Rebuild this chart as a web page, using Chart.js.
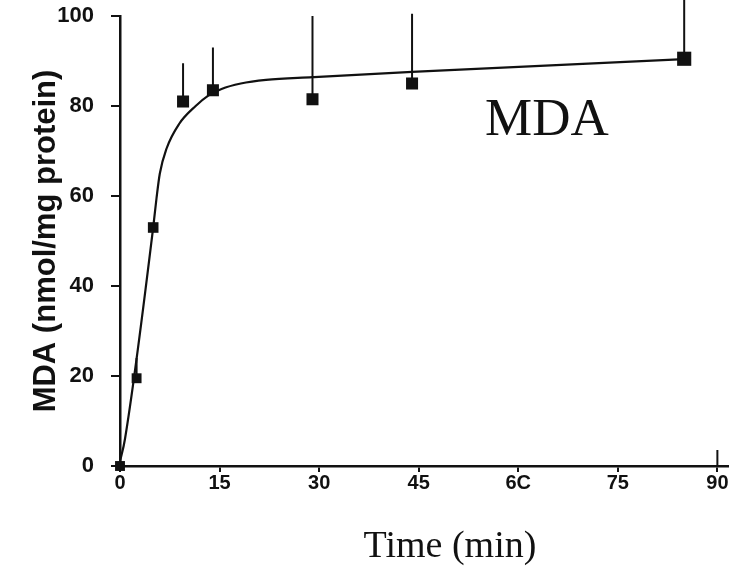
<!DOCTYPE html>
<html>
<head>
<meta charset="utf-8">
<title>MDA</title>
<script src="https://cdn.jsdelivr.net/npm/chart.js@4.4.1/dist/chart.umd.min.js"></script>
<style>
    html, body { margin: 0; padding: 0; background: #fff; }
    #wrap { width: 738px; height: 569px; position: relative; }
</style>
</head>
<body>
<div id="wrap"><canvas id="mdaChart" width="738" height="569"></canvas></div>
<script>
// measured points (time in min, MDA nmol/mg protein)
const timeMin = [0, 2.5, 5, 9.5, 14, 29, 44, 85];
const mdaValues = [0, 19.5, 53, 81, 83.5, 81.5, 85, 90.5];
const mdaUpper = [0, 24, 53, 89.5, 93, 100, 100.5, 104];
const markerSize = [7, 7, 7.5, 8.5, 8.5, 8.5, 8.5, 10];

// fitted curve
const curveX = [0, 0.75, 5, 5.5, 6.0, 7.0, 8.9, 11.4, 13.3, 15.3, 18.2, 22, 29, 44, 85];
const curveY = [1, 6, 53, 59.5, 65, 70.5, 76, 80, 82.3, 83.8, 85, 85.8, 86.4, 87.6, 90.4];

const xTicks = [0, 15, 30, 45, 60, 75, 90];
const xTickLabels = ['0', '15', '30', '45', '6C', '75', '90'];
const yTicks = [0, 20, 40, 60, 80, 100];

const ink = '#111';

const errorBars = {
    id: 'errorBars',
    afterDatasetsDraw(chart) {
        const { ctx, scales: { x, y } } = chart;
        ctx.save();
        ctx.strokeStyle = ink;
        ctx.lineWidth = 2;
        timeMin.forEach((t, i) => {
            if (mdaUpper[i] <= mdaValues[i]) return;
            const px = x.getPixelForValue(t);
            ctx.beginPath();
            ctx.moveTo(px, y.getPixelForValue(mdaValues[i]));
            ctx.lineTo(px, y.getPixelForValue(mdaUpper[i]));
            ctx.stroke();
        });
        // the 90 tick also crosses above the axis
        const p90 = x.getPixelForValue(90);
        ctx.beginPath();
        ctx.moveTo(p90, y.bottom);
        ctx.lineTo(p90, y.bottom - 16);
        ctx.stroke();
        ctx.restore();
    }
};

const labels = {
    id: 'labels',
    afterDraw(chart) {
        const { ctx } = chart;
        ctx.save();
        ctx.fillStyle = ink;
        ctx.textBaseline = 'alphabetic';

        ctx.font = '53px "Liberation Serif", "Times New Roman", serif';
        ctx.textAlign = 'left';
        ctx.fillText('MDA', 485, 135);

        ctx.textAlign = 'center';
        ctx.font = '38px "Liberation Serif", "Times New Roman", serif';
        ctx.fillText('Time (min)', 450, 557);

        ctx.translate(55, 241);
        ctx.rotate(-Math.PI / 2);
        ctx.font = 'bold 31px "Liberation Sans", Arial, sans-serif';
        ctx.fillText('MDA (nmol/mg protein)', 0, 0);
        ctx.restore();
    }
};

function initChart() {
    const ctx = document.getElementById('mdaChart').getContext('2d');
    return new Chart(ctx, {
        type: 'scatter',
        data: {
            datasets: [
                {
                    label: 'fit',
                    data: curveX.map((t, i) => ({ x: t, y: curveY[i] })),
                    showLine: true,
                    borderColor: ink,
                    borderWidth: 2.2,
                    pointRadius: 0,
                    cubicInterpolationMode: 'monotone',
                    clip: false
                },
                {
                    label: 'MDA',
                    data: timeMin.map((t, i) => ({ x: t, y: mdaValues[i] })),
                    showLine: false,
                    pointStyle: 'rect',
                    pointRadius: markerSize,
                    backgroundColor: ink,
                    borderColor: ink,
                    borderWidth: 0,
                    clip: false
                }
            ]
        },
        options: {
            responsive: false,
            animation: false,
            layout: { padding: { top: 16, right: 7, left: 0, bottom: 0 } },
            plugins: { legend: { display: false }, tooltip: { enabled: false } },
            scales: {
                x: {
                    type: 'linear',
                    min: 0,
                    max: 91.6,
                    afterBuildTicks: s => { s.ticks = xTicks.map(v => ({ value: v })); },
                    afterFit: s => { s.height = 103; },
                    border: { display: true, color: ink, width: 2.5 },
                    grid: { drawOnChartArea: false, drawTicks: true, tickLength: 6, color: ink, lineWidth: 2 },
                    ticks: {
                        color: ink,
                        padding: -1,
                        maxRotation: 0,
                        font: { family: '"Liberation Sans", Arial, sans-serif', size: 20, weight: 'bold' },
                        callback: v => xTickLabels[xTicks.indexOf(v)]
                    }
                },
                y: {
                    type: 'linear',
                    min: 0,
                    max: 100,
                    afterBuildTicks: s => { s.ticks = yTicks.map(v => ({ value: v })); },
                    afterFit: s => { s.width = 120; s.paddingTop = 0; s.paddingBottom = 0; },
                    border: { display: true, color: ink, width: 2.5 },
                    grid: { drawOnChartArea: false, drawTicks: true, tickLength: 9, color: ink, lineWidth: 2 },
                    ticks: {
                        color: ink,
                        padding: 17,
                        font: { family: '"Liberation Sans", Arial, sans-serif', size: 22, weight: 'bold' }
                    }
                }
            }
        },
        plugins: [errorBars, labels]
    });
}

initChart();
</script>
</body>
</html>
